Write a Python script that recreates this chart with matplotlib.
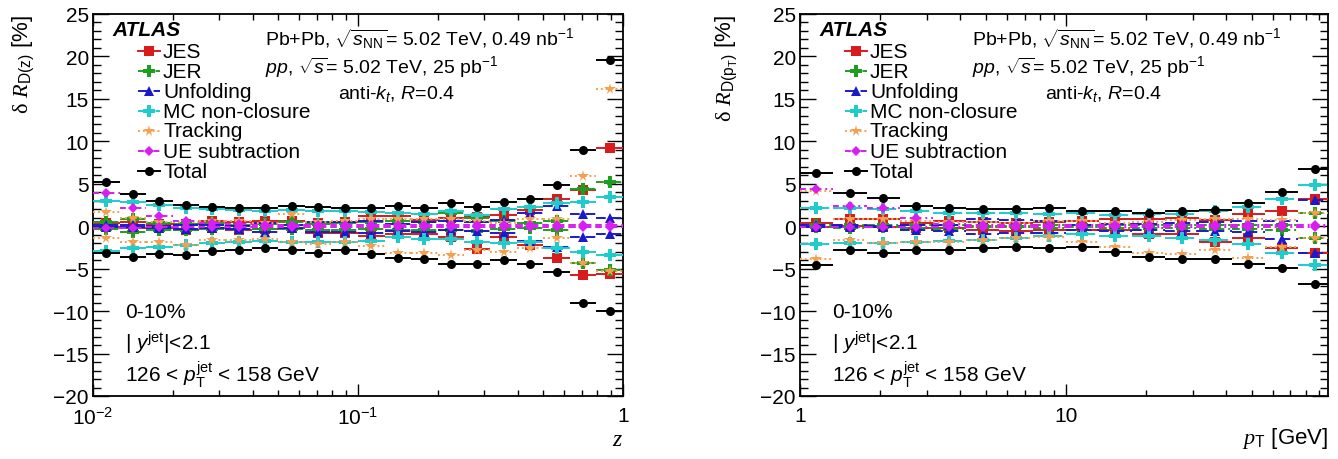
import numpy as np
import matplotlib
matplotlib.use("Agg")
import matplotlib.pyplot as plt
from matplotlib.ticker import MultipleLocator, FixedLocator, FixedFormatter, LogLocator, NullFormatter

plt.rcParams['font.family'] = ['Liberation Sans', 'DejaVu Sans']
plt.rcParams['mathtext.fontset'] = 'custom'
plt.rcParams['mathtext.rm'] = 'Liberation Sans'
plt.rcParams['mathtext.it'] = 'Liberation Sans:italic'
plt.rcParams['mathtext.bf'] = 'Liberation Sans:bold'
plt.rcParams['mathtext.sf'] = 'Liberation Serif:italic'
plt.rcParams['mathtext.cal'] = 'Liberation Serif'

# bin edges
z_edges = [0.01, 0.0126, 0.0158, 0.02, 0.0251, 0.0316, 0.0398, 0.0501, 0.0631, 0.0794,
           0.1, 0.126, 0.158, 0.2, 0.251, 0.316, 0.398, 0.501, 0.631, 0.794, 1.0]
pt_edges = [1.0, 1.33, 1.78, 2.37, 3.16, 4.22, 5.62, 7.5, 10.0, 13.3, 17.8, 23.7, 31.6,
            42.2, 56.2, 75.0, 100.0]

# D(z) uncertainties [%]
jes_up_z = [0.4, 0.5, 0.3, 0.3, 0.6, 0.5, 0.6, 0.6, 0.4, 0.5, 1.2, 1.2, 0.7, 1.0, 1.1, 1.3, 1.9, 3.2, 4.3, 9.2]
jes_dn_z = [-0.1, -0.2, -0.2, -0.4, -0.2, -0.4, -0.3, -0.2, -0.8, -0.8, -1.1, -0.9, -0.9, -1.3, -2.7, -1.3, -2.2, -3.7, -5.8, -5.6]
jer_up_z = [0.5, 0.8, 0.4, 0.3, 0.4, 0.2, 0.3, 0.5, 0.3, 0.4, 0.5, 0.6, 0.5, 1.5, 1.0, 0.6, 0.4, 0.6, 4.4, 5.2]
jer_dn_z = [-0.3, -0.7, -0.4, -0.4, -0.3, -0.3, -0.3, -0.3, -0.4, -0.4, -0.3, -0.4, -0.4, -0.5, -0.6, -0.3, -0.2, -0.5, -4.3, -5.2]
unf_up_z = [0.1, 0.1, 0.0, 0.1, 0.2, 0.0, 0.4, 0.2, 0.5, 0.5, 0.6, 0.3, 0.5, 0.6, 0.5, 0.7, 1.5, 2.4, 1.4, 1.0]
unf_dn_z = [-0.1, -0.1, -0.2, -0.3, -0.2, -0.3, -0.7, -0.2, -0.7, -0.7, -0.8, -0.6, -0.7, -0.5, -0.6, -0.8, -1.7, -2.4, -1.3, -0.9]
mc_up_z = [3.0, 2.8, 2.5, 2.1, 2.0, 1.9, 1.8, 1.9, 1.8, 1.8, 1.7, 1.6, 1.4, 1.8, 1.3, 2.0, 2.3, 2.7, 2.9, 3.4]
mc_dn_z = [-2.9, -2.6, -2.4, -2.2, -2.0, -1.9, -1.7, -1.9, -1.9, -1.8, -1.7, -1.3, -1.5, -1.5, -1.9, -2.0, -1.9, -2.6, -3.0, -3.4]
trk_up_z = [1.7, 1.0, 0.5, 0.5, 0.6, 0.6, 0.4, 1.4, 0.5, 0.6, 0.9, 0.8, 0.9, 0.8, 0.6, 0.4, 0.9, 0.9, 5.9, 16.2]
trk_dn_z = [-1.4, -1.9, -1.9, -2.2, -1.6, -1.6, -1.5, -1.9, -2.1, -1.9, -2.3, -3.1, -3.2, -3.4, -2.8, -3.0, -2.6, -1.4, -4.3, -5.3]
ue_up_z = [3.9, 2.2, 1.2, 0.6, 0.4, 0.3, 0.2, 0.2, 0.1, 0.1, 0.1, 0.1, 0.1, 0.1, 0.1, 0.1, 0.1, 0.1, 0.1, 0.1]
ue_dn_z = [-0.2, -0.2, -0.1, -0.1, -0.1, -0.1, -0.1, -0.1, -0.1, -0.1, -0.1, -0.1, -0.1, -0.1, -0.1, -0.1, -0.1, -0.1, -0.1, -0.1]
tot_up_z = [5.2, 3.8, 3.0, 2.5, 2.3, 2.2, 2.2, 2.4, 2.3, 2.1, 2.2, 2.4, 2.1, 2.7, 2.3, 2.8, 3.2, 4.9, 9.0, 19.6]
tot_dn_z = [-3.2, -3.6, -3.3, -3.4, -2.9, -2.8, -2.6, -2.8, -3.1, -2.8, -3.3, -3.7, -3.9, -4.4, -4.5, -4.0, -4.5, -5.4, -9.1, -10.0]

# D(pT) uncertainties [%]
jes_up_p = [0.4, 0.8, 0.8, 0.4, 0.6, 0.5, 0.4, 0.5, 0.6, 0.8, 0.9, 1.0, 0.7, 1.4, 1.8, 3.2]
jes_dn_p = [-0.1, 0.0, -0.1, -0.2, -0.2, -0.4, -0.6, -0.5, -0.5, -0.5, -0.9, -0.9, -1.9, -1.4, -2.6, -3.1]
jer_up_p = [0.1, 0.1, 0.1, 0.1, 0.1, 0.0, 0.0, 0.1, 0.1, 0.1, 0.1, 0.1, 0.2, 0.2, 0.1, 1.6]
jer_dn_p = [-0.1, -0.2, -0.1, -0.2, -0.3, -0.1, -0.1, -0.2, -0.1, -0.2, -0.2, -0.2, -0.3, -0.3, -0.4, -1.4]
unf_up_p = [0.1, 0.1, 0.0, 0.1, 0.2, 0.8, 0.7, 0.6, 0.2, 0.3, 0.3, 0.4, 0.5, 0.6, 0.6, 3.1]
unf_dn_p = [-0.1, -0.1, -0.1, -0.4, -0.6, -0.9, -0.8, -0.8, -0.5, -0.6, -0.5, -0.6, -0.6, -0.7, -1.5, -3.1]
mc_up_p = [2.1, 2.1, 2.0, 1.8, 1.6, 1.6, 1.5, 1.4, 1.5, 1.3, 1.4, 1.4, 1.8, 2.3, 3.2, 4.8]
mc_dn_p = [-2.1, -2.0, -2.0, -1.9, -1.7, -1.6, -1.4, -1.1, -0.9, -1.2, -1.2, -1.4, -1.6, -2.1, -3.1, -4.6]
trk_up_p = [4.2, 0.8, 0.9, 0.6, 0.5, 0.5, 0.4, 0.6, 0.6, 0.4, 0.5, 0.7, 0.8, 0.8, 0.7, 1.6]
trk_dn_p = [-3.9, -1.6, -2.0, -1.8, -1.8, -1.6, -1.4, -1.3, -1.8, -2.4, -3.1, -3.3, -2.8, -3.7, -2.4, -1.4]
ue_up_p = [4.4, 2.4, 2.1, 1.0, 0.3, 0.2, 0.2, 0.1, 0.1, 0.1, 0.1, 0.1, 0.1, 0.1, 0.1, 0.1]
ue_dn_p = [-0.1, -0.1, -0.1, -0.1, -0.1, -0.1, -0.1, -0.1, -0.1, -0.1, -0.1, -0.1, -0.1, -0.1, -0.1, -0.1]
tot_up_p = [6.3, 3.9, 3.3, 2.4, 2.1, 2.0, 2.0, 2.2, 1.8, 1.8, 1.5, 1.8, 1.9, 2.7, 4.0, 6.7]
tot_dn_p = [-4.6, -2.8, -3.1, -2.8, -2.8, -2.6, -2.4, -2.6, -2.4, -3.0, -3.6, -3.9, -3.9, -4.5, -4.9, -6.8]

labels = ['JES', 'JER', 'Unfolding', 'MC non-closure', 'Tracking', 'UE subtraction', 'Total']
colors = ['#d81b1b', '#1e9e1e', '#1a1acc', '#1ecccc', '#f5a050', '#d81ef0', 'black']
markers = ['s', 'P', '^', 'P', '*', 'D', 'o']
msizes = [6.5, 8, 7, 9, 8.5, 5.5, 6.5]
styles = ['-', (0, (4, 2, 1, 2)), (0, (5, 3)), (0, (6, 3)), (0, (1, 1.5)), (0, (3, 2, 1, 2)), '-']

FS = 15
FS_INFO = 14


def draw_series(ax, edges, up, dn, color, marker, ls, ms, z):
    lo = np.array(edges[:-1])
    hi = np.array(edges[1:])
    c = np.sqrt(lo * hi)
    for vals in (up, dn):
        eb = ax.errorbar(c, vals, xerr=[c - lo, hi - c], fmt=marker, color=color, ms=ms,
                         mew=0, elinewidth=1.4, capsize=0, zorder=z)
        eb[2][0].set_linestyle(ls)


def draw_legend(ax, wpx):
    hpx = 382.0
    rows = [52, 72, 92, 112, 132, 152, 172]
    for i in range(len(labels)):
        fy = (397 - rows[i]) / hpx
        ax.plot([45 / wpx, 67 / wpx], [fy, fy], transform=ax.transAxes, color=colors[i],
                ls=styles[i], lw=1.4, clip_on=False)
        ax.plot([56 / wpx], [fy], transform=ax.transAxes, marker=markers[i], color=colors[i],
                ms=msizes[i], mew=0, clip_on=False)
        ax.text(70 / wpx, fy, labels[i], transform=ax.transAxes, fontsize=FS, va='center')


def setup_panel(ax, wpx, series, edges):
    ups, dns = series
    for i in range(len(labels)):
        draw_series(ax, edges, ups[i], dns[i], colors[i], markers[i], styles[i], msizes[i], 3 + i)
    ax.set_xscale('log')
    ax.set_ylim(-20, 25)
    ax.yaxis.set_major_locator(MultipleLocator(5))
    ax.yaxis.set_minor_locator(MultipleLocator(1))
    ax.tick_params(which='both', direction='in', top=True, right=True, labelsize=FS)
    ax.tick_params(axis='y', which='major', length=11.5, width=1, pad=3)
    ax.tick_params(axis='y', which='minor', length=5.8, width=1)
    ax.tick_params(axis='x', which='major', length=8.3, width=1, pad=7)
    ax.tick_params(axis='x', which='minor', length=4.1, width=1)
    for s in ax.spines.values():
        s.set_linewidth(1.3)

    hpx = 382.0
    ax.text(19 / wpx, (397 - 31) / hpx, 'ATLAS', transform=ax.transAxes, fontsize=FS,
            weight='bold', style='italic', va='center')
    draw_legend(ax, wpx)
    ax.text(172 / wpx, (397 - 39) / hpx,
            r'Pb+Pb, $\sqrt{s_{\mathrm{NN}}}$= 5.02 TeV, 0.49 nb$^{\mathrm{-1}}$',
            transform=ax.transAxes, fontsize=FS_INFO, va='center')
    ax.text(172 / wpx, (397 - 67) / hpx,
            r'$pp$, $\sqrt{s}$= 5.02 TeV, 25 pb$^{\mathrm{-1}}$',
            transform=ax.transAxes, fontsize=FS_INFO, va='center')
    ax.text(245 / wpx, (397 - 94) / hpx, r'anti-$k_{t}$, $R$=0.4',
            transform=ax.transAxes, fontsize=FS_INFO, va='center')
    ax.text(32 / wpx, (397 - 313) / hpx, '0-10%', transform=ax.transAxes, fontsize=FS, va='center')
    ax.text(32 / wpx, (397 - 343) / hpx, r'| $y^{\mathrm{jet}}$|<2.1', transform=ax.transAxes,
            fontsize=FS, va='center')
    ax.text(32 / wpx, (397 - 375) / hpx, r'126 < $p_{\mathrm{T}}^{\mathrm{jet}}$ < 158 GeV',
            transform=ax.transAxes, fontsize=FS, va='center')


fig = plt.figure(figsize=(13.38, 4.60), dpi=100)
ax1 = fig.add_axes([93 / 1338, 63 / 460, 530 / 1338, 382 / 460])
ax2 = fig.add_axes([800 / 1338, 63 / 460, 528 / 1338, 382 / 460])

z_series = ([jes_up_z, jer_up_z, unf_up_z, mc_up_z, trk_up_z, ue_up_z, tot_up_z],
            [jes_dn_z, jer_dn_z, unf_dn_z, mc_dn_z, trk_dn_z, ue_dn_z, tot_dn_z])
p_series = ([jes_up_p, jer_up_p, unf_up_p, mc_up_p, trk_up_p, ue_up_p, tot_up_p],
            [jes_dn_p, jer_dn_p, unf_dn_p, mc_dn_p, trk_dn_p, ue_dn_p, tot_dn_p])

setup_panel(ax1, 530.0, z_series, z_edges)
ax1.set_xlim(0.01, 1.0)
ax1.xaxis.set_major_locator(FixedLocator([0.01, 0.1, 1.0]))
ax1.xaxis.set_major_formatter(FixedFormatter([r'$10^{-2}$', r'$10^{-1}$', '1']))
ax1.xaxis.set_minor_locator(LogLocator(base=10, subs=np.arange(2, 10)))
ax1.xaxis.set_minor_formatter(NullFormatter())
ax1.set_xlabel(r'$\mathsf{z}$', fontsize=17, loc='right', labelpad=0)
ax1.set_ylabel(r'$\mathcal{δ}\ \mathsf{R}_{\mathrm{D(z)}}$ [%]', fontsize=16, loc='top')
ax1.yaxis.set_label_coords(-0.105, 1.0)

setup_panel(ax2, 528.0, p_series, pt_edges)
ax2.set_xlim(1.0, 97.0)
ax2.xaxis.set_major_locator(FixedLocator([1.0, 10.0]))
ax2.xaxis.set_major_formatter(FixedFormatter(['1', '10']))
ax2.xaxis.set_minor_locator(LogLocator(base=10, subs=np.arange(2, 10)))
ax2.xaxis.set_minor_formatter(NullFormatter())
ax2.set_xlabel(r'$\mathsf{p}_{\mathrm{T}}$ [GeV]', fontsize=16, loc='right', labelpad=0)
ax2.set_ylabel(r'$\mathcal{δ}\ \mathsf{R}_{\mathrm{D(p_{T})}}$ [%]', fontsize=16, loc='top')
ax2.yaxis.set_label_coords(-0.114, 1.0)

fig.savefig('out.png', dpi=100)
